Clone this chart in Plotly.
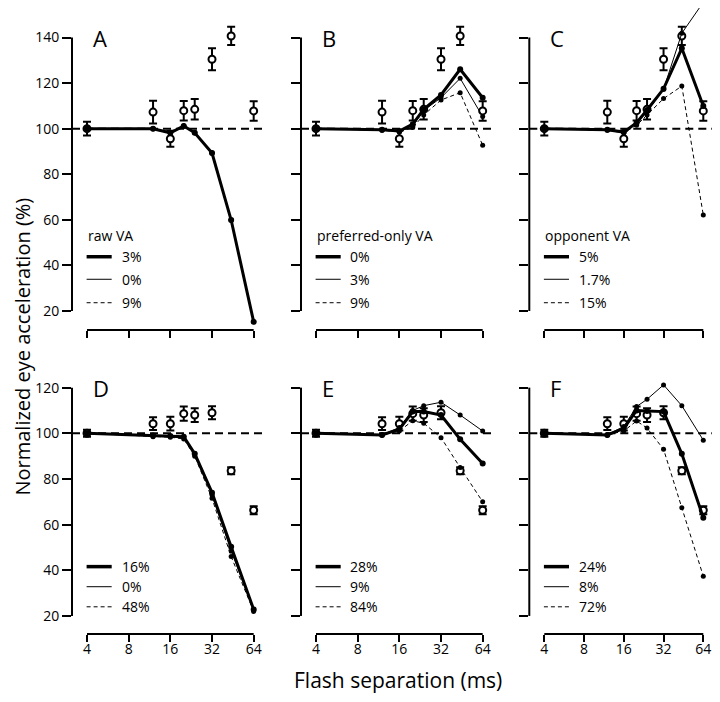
import math
import plotly.graph_objects as go

# flash separations (ms) at which responses were measured / simulated
flash_ms = [4, 12, 16, 20, 24, 32, 44, 64]
tick_ms = [4, 8, 16, 32, 64]
ref_level = 100

# measured eye acceleration (open circles), upper and lower rows
data_top = [100, 107.3, 95.6, 107.9, 108.5, 130.5, 140.7, 107.8]
err_top = [3, 5, 3.5, 4.3, 4.5, 4.8, 4, 4.3]
data_bottom = [100, 104.2, 104.2, 108.6, 108, 109, 83.6, 66.3]
err_bottom = [1.5, 2.8, 3, 3.1, 3, 2.9, 1.5, 1.8]

# model curves per panel: thick, thin, dashed
a_thick = [100, 100, 98.2, 101.2, 98.2, 89.3, 59.9, 15.2]
a_thin = [100, 100, 98.2, 101.2, 98.2, 89.3, 59.9, 15.2]
a_dash = [100, 100, 98.2, 101.2, 98.2, 89.3, 59.9, 15.2]

b_thick = [100, 99.5, 99, 102, 108.5, 114.8, 126.1, 113.6]
b_thin = [100, 99.4, 98.8, 101.2, 108, 113.6, 122.1, 105.3]
b_dash = [100, 99.3, 98.6, 100.5, 106, 112.6, 115.8, 92.7]

c_thick = [100, 99.5, 98.5, 102.6, 108.2, 117.5, 135.3, 110]
c_thin = [100, 99.5, 98.5, 102.4, 107.5, 117.3, 141.9, 155.5]
c_dash = [100, 99.3, 98.2, 101.5, 106, 113.2, 118.7, 62.1]

d_thick = [100, 99, 98.8, 98.5, 91, 74, 50.3, 22.8]
d_thin = [100, 99, 98.8, 98.5, 91, 73, 48.5, 22.5]
d_dash = [100, 98.5, 98.3, 97.5, 90, 71.5, 46, 22]

e_thick = [100, 99.3, 101.8, 109.5, 109.5, 108, 97.4, 86.8]
e_thin = [100, 99.3, 102.5, 110, 112.1, 113.6, 108, 101]
e_dash = [100, 99.3, 101, 105.5, 104.4, 98.1, 85, 70]

f_thick = [100, 99.3, 102.2, 110, 109.8, 109.5, 91, 63]
f_thin = [100, 99.3, 103, 111.7, 114.9, 121.2, 112.1, 97]
f_dash = [100, 99.3, 101, 105.4, 102.3, 93, 67.4, 37.4]

letters = ["A", "B", "C", "D", "E", "F"]
legend_titles = ["raw VA", "preferred-only VA", "opponent VA", "", "", ""]
legend_labels = [
    ["3%", "0%", "9%"],
    ["0%", "3%", "9%"],
    ["5%", "1.7%", "15%"],
    ["16%", "0%", "48%"],
    ["28%", "9%", "84%"],
    ["24%", "8%", "72%"],
]

models = [
    (a_thick, a_thin, a_dash),
    (b_thick, b_thin, b_dash),
    (c_thick, c_thin, c_dash),
    (d_thick, d_thin, d_dash),
    (e_thick, e_thin, e_dash),
    (f_thick, f_thin, f_dash),
]

FONT = "Open Sans"
PLOT_W = 640  # width of plotting area in px (figure 704 minus left margin 64)
col_domains = [[0.0, 0.296875], [0.35781, 0.65469], [0.71453, 1.0]]
# right column is squeezed a little so its last tick label stays on the page
col_xranges = [[0.49369, 1.86629], [0.49369, 1.86629], [0.48845, 1.87210]]
row_domains = [[0.48562, 1.0], [0.0, 0.40895]]
row_ranges = [[11.63, 152.98], [12.09, 124.22]]
row_yticks = [[20, 40, 60, 80, 100, 120, 140], [20, 40, 60, 80, 100, 120]]
row_ytop = [140, 120]
# legend rows (in data units): title, thick, thin, dashed
row_legend_y = [[53.3, 43.8, 33.9, 23.6], [None, 41.6, 32.8, 24.0]]


def ypaper(row, v):
    d0, d1 = row_domains[row]
    r0, r1 = row_ranges[row]
    return d0 + (v - r0) / (r1 - r0) * (d1 - d0)


def xpaper(col, v):
    d0, d1 = col_domains[col]
    r0, r1 = col_xranges[col]
    return d0 + (math.log10(v) - r0) / (r1 - r0) * (d1 - d0)


def xdom(col, px):
    # a horizontal offset in px from the panel's left edge, as a domain fraction
    d0, d1 = col_domains[col]
    return px / ((d1 - d0) * PLOT_W)


fig = go.Figure()
shapes = []
annotations = []
layout = {}

for i in range(6):
    row, col = divmod(i, 3)
    n = i + 1
    sfx = "" if n == 1 else str(n)
    xa, ya = "x" + sfx, "y" + sfx
    data = data_top if row == 0 else data_bottom
    err = err_top if row == 0 else err_bottom
    thick, thin, dash = models[i]

    fig.add_trace(go.Scatter(
        x=flash_ms, y=data, mode="markers", xaxis=xa, yaxis=ya,
        marker=dict(symbol="circle", size=7, color="white",
                    line=dict(color="black", width=2)),
        error_y=dict(type="data", array=err, color="black", thickness=2, width=4),
        cliponaxis=False, showlegend=False))
    fig.add_trace(go.Scatter(
        x=flash_ms, y=dash, mode="lines+markers", xaxis=xa, yaxis=ya,
        line=dict(color="black", width=1, dash="4px,3px"),
        marker=dict(size=5, color="black"), cliponaxis=False, showlegend=False))
    fig.add_trace(go.Scatter(
        x=flash_ms, y=thin, mode="lines+markers", xaxis=xa, yaxis=ya,
        line=dict(color="black", width=1),
        marker=dict(size=5, color="black"), cliponaxis=False, showlegend=False))
    fig.add_trace(go.Scatter(
        x=flash_ms, y=thick, mode="lines+markers", xaxis=xa, yaxis=ya,
        line=dict(color="black", width=3),
        marker=dict(size=6, color="black"), cliponaxis=False, showlegend=False))

    layout["xaxis" + sfx] = dict(
        domain=col_domains[col], anchor=ya, type="log", range=col_xranges[col],
        tickvals=tick_ms, ticktext=[str(t) for t in tick_ms],
        showticklabels=(row == 1), ticks="outside", ticklen=7, tickwidth=2,
        ticklabelstandoff=-5,
        tickcolor="black", showgrid=False, zeroline=False, showline=False,
        tickfont=dict(family=FONT, size=14, color="black"))
    layout["yaxis" + sfx] = dict(
        domain=row_domains[row], anchor=xa, range=row_ranges[row],
        tickvals=row_yticks[row], showticklabels=(col == 0),
        ticks="outside", ticklen=9, tickwidth=2, tickcolor="black",
        showgrid=False, zeroline=False, showline=False,
        tickfont=dict(family=FONT, size=14, color="black"))

    # detached axis lines (paper coordinates, so they are not clipped)
    shapes.append(dict(type="line", xref="paper", yref="paper",
                       x0=col_domains[col][0], x1=col_domains[col][0],
                       y0=ypaper(row, row_yticks[row][0]),
                       y1=ypaper(row, row_ytop[row]),
                       line=dict(color="black", width=2)))
    shapes.append(dict(type="line", xref="paper", yref="paper",
                       x0=xpaper(col, tick_ms[0]), x1=xpaper(col, tick_ms[-1]),
                       y0=row_domains[row][0], y1=row_domains[row][0],
                       line=dict(color="black", width=2)))
    # reference level
    shapes.append(dict(type="line", xref=xa + " domain", yref=ya,
                       x0=0, x1=1, y0=ref_level, y1=ref_level, layer="below",
                       line=dict(color="black", width=2, dash="8px,5px")))

    # panel letter
    annotations.append(dict(text=letters[i], xref=xa + " domain", yref=ya,
                            x=xdom(col, 19), y=row_ytop[row], xanchor="left",
                            yanchor="middle", showarrow=False,
                            font=dict(family=FONT, size=22, color="black")))

    # legend key
    ly = row_legend_y[row]
    if legend_titles[i]:
        annotations.append(dict(text=legend_titles[i], xref=xa + " domain",
                                yref=ya, x=xdom(col, 13.7), y=ly[0],
                                xanchor="left", yanchor="middle", showarrow=False,
                                font=dict(family=FONT, size=14, color="black")))
    styles = [dict(width=3.5), dict(width=1), dict(width=1, dash="4px,3px")]
    for k in range(3):
        shapes.append(dict(type="line", xref=xa + " domain", yref=ya,
                           x0=xdom(col, 14.6), x1=xdom(col, 39.7),
                           y0=ly[k + 1], y1=ly[k + 1],
                           line=dict(color="black", **styles[k])))
        annotations.append(dict(text=legend_labels[i][k], xref=xa + " domain",
                                yref=ya, x=xdom(col, 47.5), y=ly[k + 1],
                                xanchor="left", yanchor="middle", showarrow=False,
                                font=dict(family=FONT, size=14, color="black")))

annotations.append(dict(text="Flash separation (ms)", xref="paper", yref="paper",
                        x=0.5094, y=-0.0735, xanchor="center", yanchor="middle",
                        showarrow=False,
                        font=dict(family=FONT, size=21, color="black")))
annotations.append(dict(text="Normalized eye acceleration (%)", xref="paper",
                        yref="paper", x=-0.078, y=0.4593, xanchor="center",
                        yanchor="middle", textangle=-90, showarrow=False,
                        font=dict(family=FONT, size=20, color="black")))

# the page body adds an 8px margin on every side, so the figure is
# smaller than the window to keep the whole page in view
fig.update_layout(
    width=704, height=686,
    margin=dict(l=64, r=0, t=0, b=60),
    paper_bgcolor="white", plot_bgcolor="rgba(0,0,0,0)",
    shapes=shapes, annotations=annotations,
    font=dict(family=FONT, color="black"),
    **layout)

fig.write_html("out.html")
